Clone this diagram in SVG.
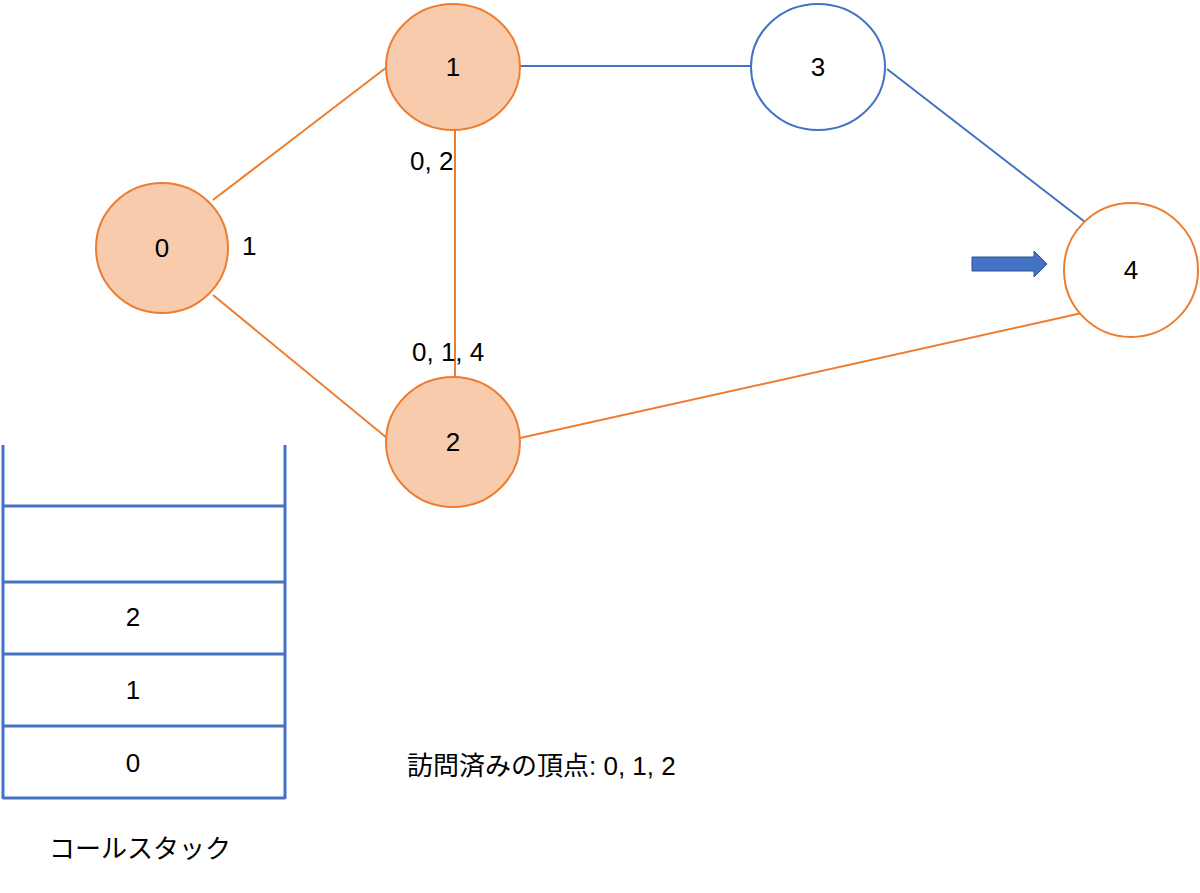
<svg xmlns="http://www.w3.org/2000/svg" width="1200" height="893" viewBox="0 0 1200 893">
<style>
text{font-family:"Liberation Sans","Noto Sans CJK JP",sans-serif;font-size:26px;fill:#000}
.v{fill:#F8CBAD;stroke:#ED7D31;stroke-width:2}
.w{fill:#fff;stroke:#ED7D31;stroke-width:2}
.b{fill:#fff;stroke:#4472C4;stroke-width:2}
.eo{stroke:#ED7D31;stroke-width:2}
.eb{stroke:#4472C4;stroke-width:2}
.s{stroke:#4472C4;stroke-width:3}
</style>
<rect width="1200" height="893" fill="#fff"/>
<g id="connectors">
<line class="eo" x1="213" y1="200" x2="387" y2="67"/>
<line class="eo" x1="213" y1="295" x2="387" y2="438"/>
<line class="eb" x1="520" y1="66" x2="751" y2="66"/>
<line class="eo" x1="455" y1="130" x2="455" y2="377"/>
<line class="eb" x1="887" y1="69" x2="1085" y2="222"/>
<line class="eo" x1="520" y1="438" x2="1082" y2="313"/>
</g>
<g id="n0"><ellipse class="v" cx="162" cy="248" rx="66" ry="65"/><text x="162" y="257" text-anchor="middle">0</text></g>
<g id="n1"><ellipse class="v" cx="453" cy="67" rx="67" ry="63"/><text x="453" y="76" text-anchor="middle">1</text></g>
<g id="n2"><ellipse class="v" cx="453" cy="442" rx="67" ry="65"/><text x="453" y="451" text-anchor="middle">2</text></g>
<g id="n3"><ellipse class="b" cx="818" cy="67" rx="67" ry="63"/><text x="818" y="76" text-anchor="middle">3</text></g>
<g id="n4"><ellipse class="w" cx="1131" cy="270" rx="67" ry="67"/><text x="1131" y="279" text-anchor="middle">4</text></g>
<g id="labels">
<text x="242" y="255">1</text>
<text x="410" y="170">0, 2</text>
<text x="412" y="361">0, 1, 4</text>
<text x="407" y="775">訪問済みの頂点: 0, 1, 2</text>
<text x="140" y="858" text-anchor="middle">コールスタック</text>
</g>
<g id="arrow"><polygon points="972,257 1034,257 1034,251 1047,264 1034,277 1034,271 972,271" fill="#4472C4" stroke="#2F528F" stroke-width="1"/></g>
<g id="stack">
<line class="s" x1="3" y1="445" x2="3" y2="799"/>
<line class="s" x1="285" y1="445" x2="285" y2="799"/>
<line class="s" x1="3" y1="506" x2="285" y2="506"/>
<line class="s" x1="3" y1="582" x2="285" y2="582"/>
<line class="s" x1="3" y1="654" x2="285" y2="654"/>
<line class="s" x1="3" y1="726" x2="285" y2="726"/>
<line class="s" x1="3" y1="798" x2="285" y2="798"/>
<text x="133" y="626" text-anchor="middle">2</text>
<text x="133" y="699" text-anchor="middle">1</text>
<text x="133" y="772" text-anchor="middle">0</text>
</g>
</svg>
